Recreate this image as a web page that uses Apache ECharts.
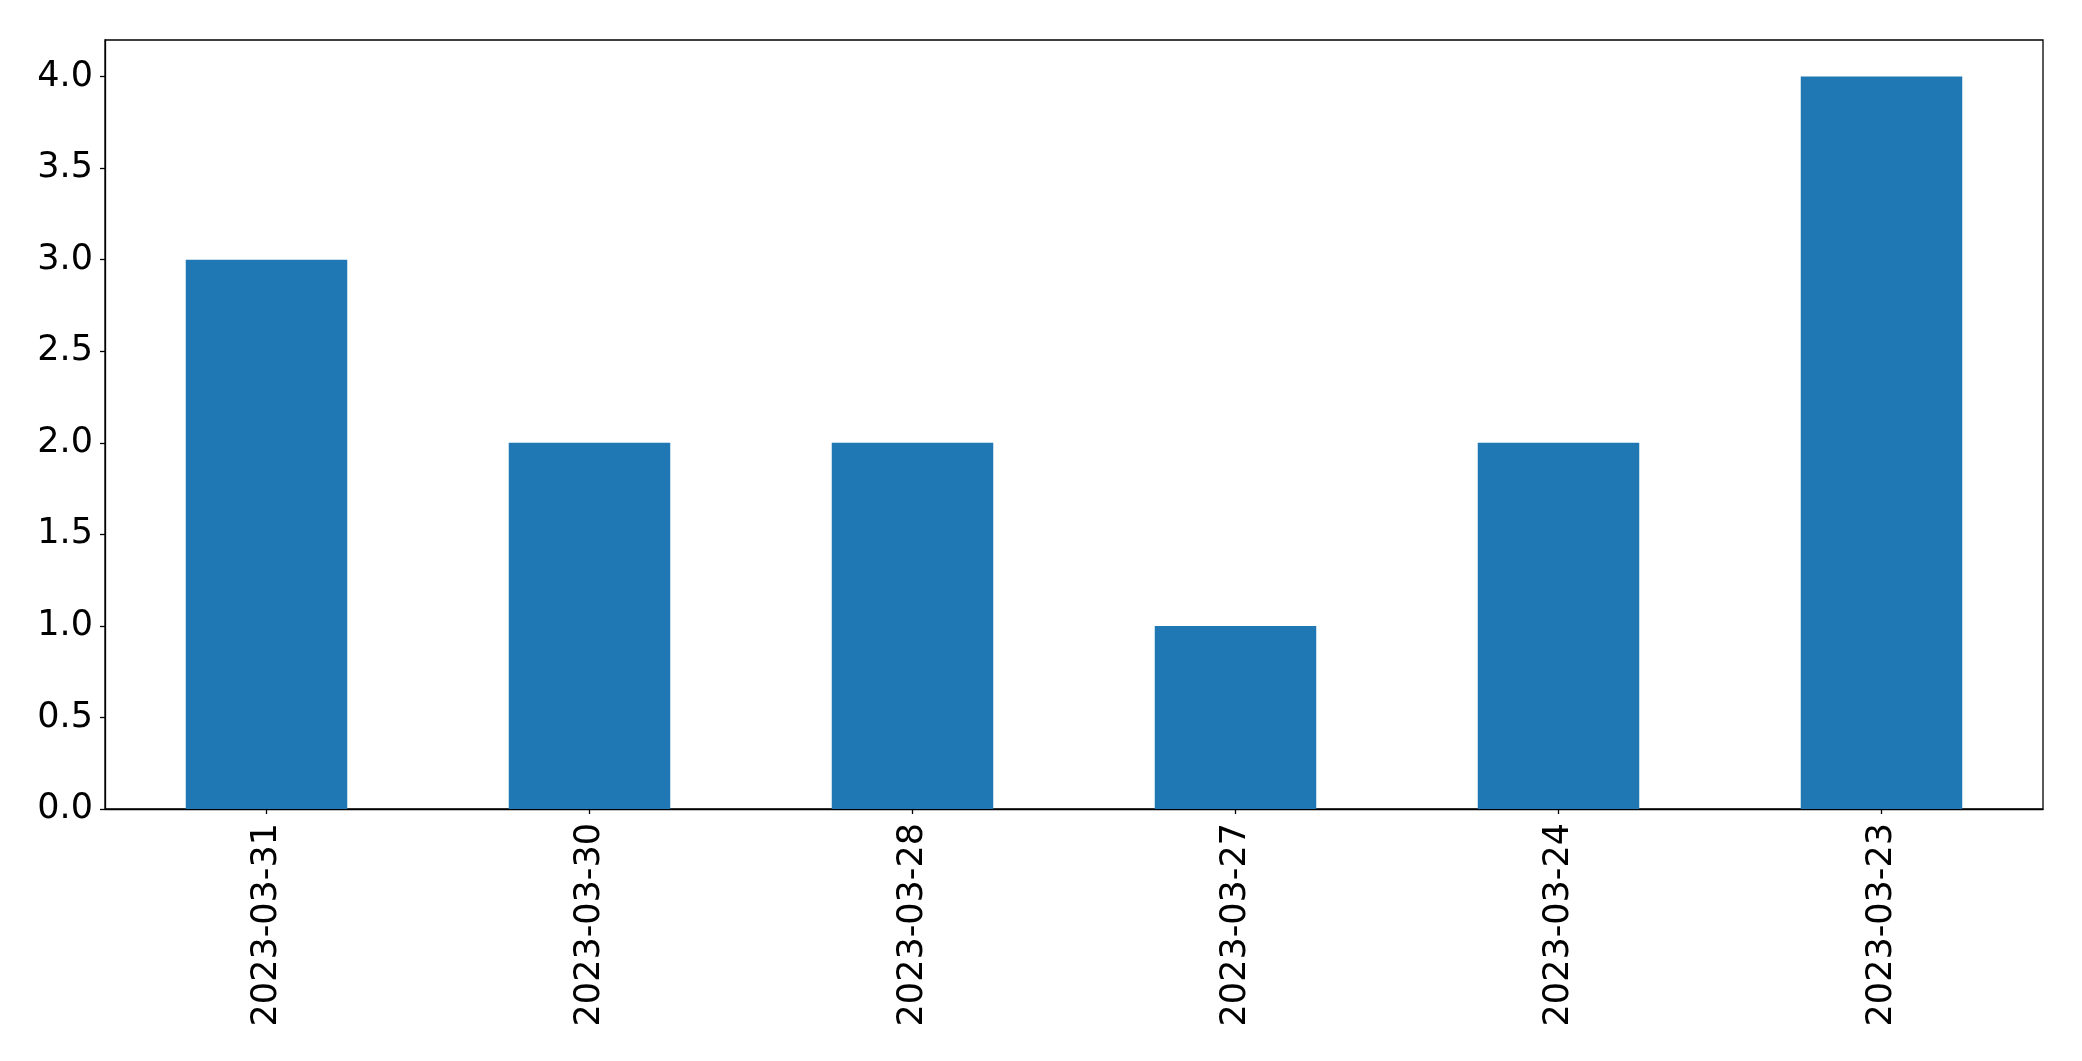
<!DOCTYPE html>
<html>
<head>
<meta charset="utf-8">
<script src="https://cdn.jsdelivr.net/npm/echarts@6/dist/echarts.min.js"></script>
<style>html,body{margin:0;padding:0;background:#fff}#c{width:2082px;height:1061px}</style>
</head>
<body>
<div id="c"></div>
<script>
const categories = ['2023-03-31', '2023-03-30', '2023-03-28', '2023-03-27', '2023-03-24', '2023-03-23'];
const values = [3, 2, 2, 1, 2, 4];
const yTicks = [0, 0.5, 1, 1.5, 2, 2.5, 3, 3.5, 4];

const chart = echarts.init(document.getElementById('c'));
chart.setOption({
  animation: false,
  backgroundColor: '#fff',
  grid: {left: 105, right: 39, top: 40, bottom: 252, show: true, borderColor: '#000', borderWidth: 1.3, backgroundColor: 'transparent'},
  xAxis: {
    type: 'category',
    data: categories,
    axisLine: {show: true, lineStyle: {color: '#000', width: 1.3}},
    axisTick: {show: true, alignWithLabel: true, length: 5, lineStyle: {color: '#000', width: 1.3}},
    axisLabel: {rotate: 90, color: '#000', fontFamily: 'DejaVu Sans', fontSize: 35, margin: 14, interval: 0},
    splitLine: {show: false}
  },
  yAxis: {
    type: 'value',
    min: 0, max: 4.2, interval: 0.5,
    axisLine: {show: true, lineStyle: {color: '#000', width: 1.3}},
    axisTick: {show: true, length: 5, lineStyle: {color: '#000', width: 1.3}, customValues: yTicks},
    axisLabel: {color: '#000', fontFamily: 'DejaVu Sans', fontSize: 35, margin: 12, customValues: yTicks, formatter: v => v.toFixed(1)},
    splitLine: {show: false}
  },
  series: [{
    type: 'bar',
    data: values,
    barWidth: '50%',
    itemStyle: {color: '#1f77b4'}
  }]
});
</script>
</body>
</html>
